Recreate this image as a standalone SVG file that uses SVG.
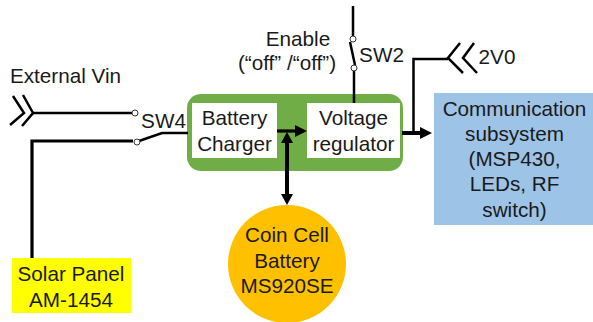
<svg xmlns="http://www.w3.org/2000/svg" width="593" height="322" viewBox="0 0 593 322">
<style>
text{font-family:"Liberation Sans",Arial,sans-serif;font-size:20.7px;fill:#1a1a1a;text-anchor:middle}
.w{fill:none;stroke:#000;stroke-width:2.5}
.t{fill:none;stroke:#000;stroke-width:3.2}
.b{fill:none;stroke:#000;stroke-width:4}
.a{fill:#000;stroke:none}
.c{fill:#fff;stroke:#333;stroke-width:1}
</style>
<rect width="593" height="322" fill="#fff"/>
<g id="external-vin"><text x="65.500" y="83">External Vin</text></g>
<g id="sw4-label"><text x="163.500" y="128">SW4</text></g>
<g id="sw2-label"><text x="381.500" y="62">SW2</text></g>
<g id="enable"><text x="298" y="46">Enable</text><text x="287" y="70">(“off” /“off”)</text></g>
<g id="v2-label"><text x="497" y="64">2V0</text></g>
<g id="charger-group">
<rect x="187" y="94" width="216" height="77" rx="14" fill="#70ad47"/>
<g id="battery-charger"><rect x="192" y="103" width="85" height="55" fill="#fff"/><text x="234.500" y="125">Battery</text><text x="234.500" y="151">Charger</text></g>
<g id="voltage-regulator"><rect x="307" y="103" width="93" height="55" fill="#fff"/><text x="353.500" y="125">Voltage</text><text x="353.500" y="151">regulator</text></g>
</g>
<g id="communication"><rect x="434" y="93" width="159" height="132" fill="#9dc3e6"/>
<text x="514.500" y="116">Communication</text><text x="514.500" y="141">subsystem</text><text x="514.500" y="166">(MSP430,</text><text x="514.500" y="191">LEDs, RF</text><text x="514.500" y="217">switch)</text></g>
<g id="solar-panel"><rect x="12" y="258" width="119" height="55" fill="#ffff00"/><text x="71" y="281">Solar Panel</text><text x="71" y="307">AM-1454</text></g>
<g id="coin-cell"><circle cx="287" cy="264" r="59" fill="#ffc000"/><text x="287" y="242">Coin Cell</text><text x="287" y="268">Battery</text><text x="287" y="293">MS920SE</text></g>
<g id="connectors">
<path class="w" d="M13 96L24 113L10 125M23 95L33 113L22 126"/>
<path class="w" d="M33 113H132"/>
<path class="t" d="M32 258V141H133"/>
<path class="w" d="M139 141L162 133H188"/>
<circle class="c" cx="135" cy="113" r="3"/>
<circle class="c" cx="137" cy="142" r="3"/>
<path class="w" d="M353 6V36M350 42L355 65M354 71V103"/>
<circle class="c" cx="353" cy="39" r="3"/>
<circle class="c" cx="354" cy="68" r="3"/>
<path class="w" d="M413.500 132V59H448"/>
<path class="w" d="M460 43L448 58L463 73M474 43L463 58L477 73"/>
<path class="t" d="M277 131H297"/><polygon class="a" points="295,125 307,131 295,137"/>
<path class="b" d="M287 142V195"/><polygon class="a" points="281,143 287,132 293,143"/><polygon class="a" points="281,194 293,194 287,205"/>
<path class="b" d="M402 133H421"/><polygon class="a" points="420,127 432,133 420,139"/>
</g>
</svg>
